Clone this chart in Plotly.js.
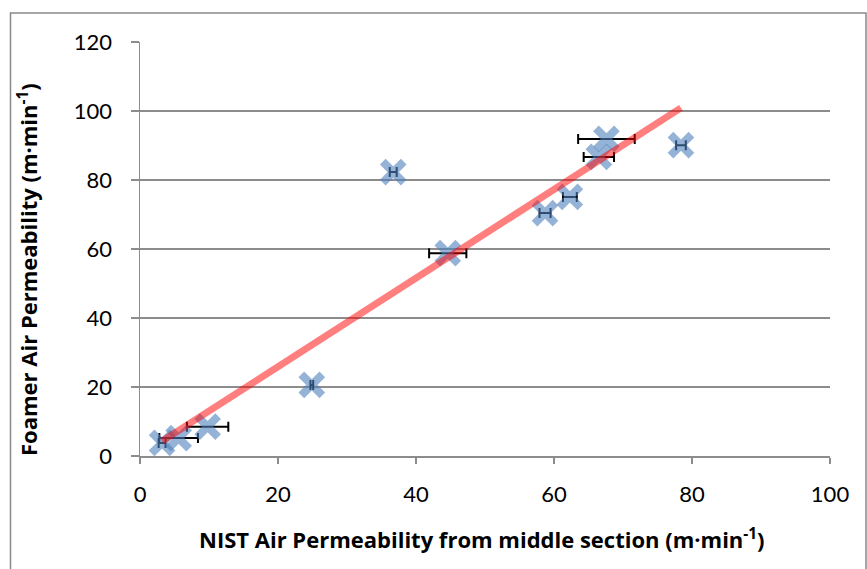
<!DOCTYPE html>
<html>
<head>
<meta charset="utf-8">
<script src="https://cdn.plot.ly/plotly-3.0.1.min.js"></script>
<style>
html,body{margin:0;padding:0;background:#fff;}
#chart{width:867px;height:569px;}
</style>
</head>
<body>
<div id="chart"></div>
<script>
// Data
var nistX   = [3.2, 5.6, 9.8, 24.9, 36.7, 44.6, 58.7, 62.3, 66.5, 67.6, 78.4];
var foamerY = [3.8, 5.2, 8.5, 20.6, 82.3, 58.8, 70.4, 75.1, 86.7, 91.9, 90.1];
var nistErr = [0.5, 2.8, 3.0, 0.2, 0.5, 2.7, 0.8, 1.0, 2.2, 4.1, 0.7];
var trendX  = [3.2, 78.4];
var trendY  = [4.3, 100.9];
var xTicks  = [0, 20, 40, 60, 80, 100];
var yTicks  = [0, 20, 40, 60, 80, 100, 120];
var xTitle  = 'NIST Air Permeability from middle section (m·min<sup>-1</sup>)';
var yTitle  = 'Foamer Air Permeability (m·min<sup>-1</sup>)';

var font = "Lato, 'Open Sans', sans-serif";
var titleFont = "'Open Sans', Lato, sans-serif";

var traces = [
  {
    x: nistX, y: foamerY, type: 'scatter', mode: 'markers',
    marker: {symbol: 'x-thin-open', size: 21,
             line: {width: 8, color: 'rgba(79,129,189,0.6)'},
             color: 'rgba(79,129,189,0.6)'},
    error_x: {type: 'data', array: nistErr, visible: true,
              color: '#000000', thickness: 2, width: 5},
    hoverinfo: 'x+y', showlegend: false
  },
  {
    x: trendX, y: trendY, type: 'scatter', mode: 'lines',
    line: {color: 'rgba(255,0,0,0.5)', width: 7},
    hoverinfo: 'skip', showlegend: false
  }
];

var layout = {
  width: 867, height: 569,
  margin: {l: 140, r: 37, t: 42, b: 113},
  paper_bgcolor: '#ffffff', plot_bgcolor: '#ffffff',
  font: {family: font, size: 22, color: '#000000'},
  xaxis: {
    range: [0, 100], tickvals: xTicks, ticktext: xTicks.map(String),
    showgrid: false, zeroline: false,
    showline: true, linecolor: '#8c8c8c', linewidth: 1.5,
    ticks: 'outside', ticklen: 6, tickcolor: '#8c8c8c', tickwidth: 1.5,
    ticklabelstandoff: 12,
    tickfont: {family: font, size: 22, color: '#000'}
  },
  yaxis: {
    range: [0, 120], tickvals: yTicks, ticktext: yTicks.map(String),
    showgrid: true, gridcolor: '#8c8c8c', gridwidth: 1.5,
    zeroline: false,
    showline: true, linecolor: '#8c8c8c', linewidth: 1.5,
    ticks: 'outside', ticklen: 8, tickcolor: '#8c8c8c', tickwidth: 1.5,
    ticklabelstandoff: 14,
    tickfont: {family: font, size: 22, color: '#000'}
  },
  annotations: [
    {text: xTitle, xref: 'paper', yref: 'paper',
     x: (482 - 140) / 690, y: (456 - 538) / 414,
     xanchor: 'center', yanchor: 'middle', showarrow: false,
     font: {family: titleFont, size: 22, color: '#000', weight: 'bold'}},
    {text: yTitle, xref: 'paper', yref: 'paper', textangle: -90,
     x: (27 - 140) / 690, y: (456 - 270) / 414,
     xanchor: 'center', yanchor: 'middle', showarrow: false,
     font: {family: titleFont, size: 22, color: '#000', weight: 'bold'}}
  ],
  shapes: [{
    type: 'rect', xref: 'paper', yref: 'paper',
    x0: (10.5 - 140) / 690, x1: (866 - 140) / 690,
    y0: (456 - 600) / 414, y1: (456 - 13) / 414,
    line: {color: '#898989', width: 1.5}, fillcolor: 'rgba(0,0,0,0)', layer: 'below'
  }]
};

Plotly.newPlot('chart', traces, layout, {displayModeBar: false, staticPlot: true});
</script>
</body>
</html>
